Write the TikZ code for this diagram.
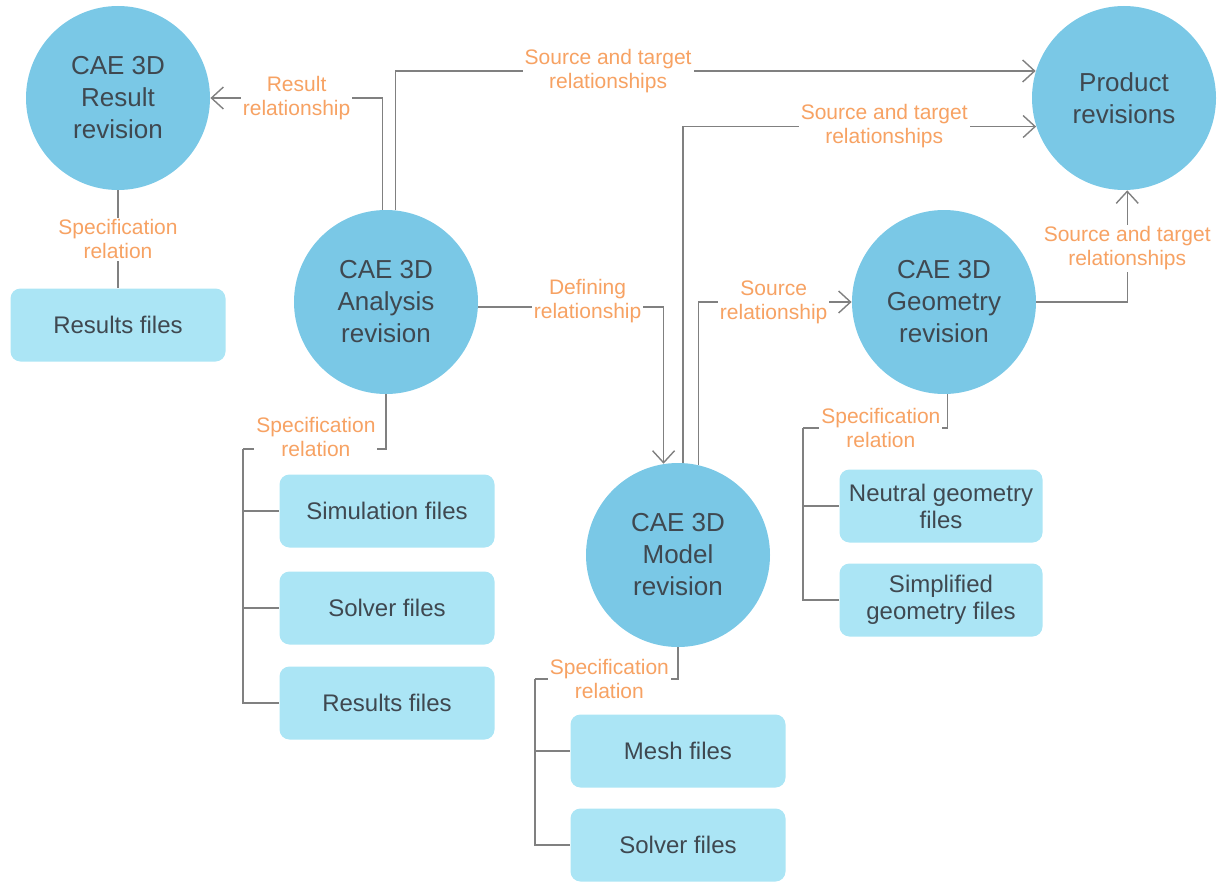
\documentclass[tikz,border=0pt]{standalone}
\usepackage{fontspec}
\setmainfont{Liberation Sans}
\usetikzlibrary{arrows.meta}
\usetikzlibrary{shapes}
\usetikzlibrary{positioning}
\definecolor{revblue}{HTML}{7AC8E6}
\definecolor{fileblue}{HTML}{ABE5F5}
\definecolor{relorange}{HTML}{F7A263}
\definecolor{txtgray}{HTML}{3F4850}
\definecolor{linegray}{HTML}{808080}

\begin{document}
\begin{tikzpicture}[x=0.5pt, y=-0.5pt] % 1 unit = 1 pixel of the sketch
\tikzstyle{rev} = [circle, fill=revblue, minimum size=92pt, inner sep=0pt, text=txtgray, align=center, font=\fontsize{13}{16}\selectfont]
\tikzstyle{file} = [rectangle, rounded corners=5pt, fill=fileblue, minimum width=107.5pt, minimum height=36.5pt, text=txtgray, align=center, font=\fontsize{12}{13.5}\selectfont]
\tikzstyle{rel} = [fill=white, text=relorange, align=center, inner sep=1pt, font=\fontsize{10.5}{12}\selectfont]
\tikzstyle{link} = [draw=linegray, line width=0.7pt]
\tikzstyle{arr} = [link, -{Straight Barb[length=6pt, width=11pt]}]
\useasboundingbox (0,0) rectangle (1220,883);

% revisions
\node[rev] (res) at (118,98) {CAE 3D\\Result\\revision};
\node[rev] (ana) at (386,302) {CAE 3D\\Analysis\\revision};
\node[rev] (mod) at (678,555) {CAE 3D\\Model\\revision};
\node[rev] (geo) at (944,302) {CAE 3D\\Geometry\\revision};
\node[rev] (prod) at (1124,98) {Product\\revisions};

% files
\node[file] (resfiles) at (118,325) {Results files};
\node[file] (simfiles) at (387,511) {Simulation files};
\node[file] (anasolver) at (387,608) {Solver files};
\node[file] (anaresults) at (387,703) {Results files};
\node[file] (mesh) at (678,751) {Mesh files};
\node[file] (modsolver) at (678,845) {Solver files};
\node[file, minimum width=101.5pt] (neutral) at (941,506) {Neutral geometry\\files};
\node[file, minimum width=101.5pt] (simpl) at (941,600) {Simplified\\geometry files};

% relationships
\draw[arr] (ana.92) |- node[rel, pos=0.75] {Result\\relationship} (res.east);
\draw[arr] (ana.84) |- node[rel, pos=0.666] {Source and target\\relationships} (prod.163.6);
\draw[arr] (ana.-3) -| node[rel, pos=0.295, yshift=3pt] {Defining\\relationship} (mod.99.4);
\draw[arr] (mod.87) |- node[rel, pos=0.785] {Source and target\\relationships} (prod.198.4);
\draw[arr] (mod.77.4) |- node[rel, pos=0.745] {Source\\relationship} (geo.west);
\draw[arr] (geo.east) -| node[rel, pos=0.74] {Source and target\\relationships} (prod.272);

% specification trees
\coordinate (anatree) at (243,449);
\coordinate (modtree) at (535,679);
\coordinate (geotree) at (803,428);
\draw[link] (res) -- node[rel] {Specification\\relation} (resfiles);
\draw[link] (ana.south) |- node[rel, pos=0.745, yshift=6pt] {Specification\\relation} (anatree);
\draw[link] (mod.south) |- node[rel, pos=0.74] {Specification\\relation} (modtree);
\draw[link] (geo.-88) |- node[rel, pos=0.73] {Specification\\relation} (geotree);
\draw[link] (anatree) |- (anaresults.west);
\draw[link] (modtree) |- (modsolver.west);
\draw[link] (geotree) |- (simpl.west);
\foreach \tree/\f in {anatree/simfiles, anatree/anasolver, modtree/mesh, geotree/neutral}
\draw[link] (\tree |- \f.west) -- (\f.west);
\end{tikzpicture}
\end{document}
